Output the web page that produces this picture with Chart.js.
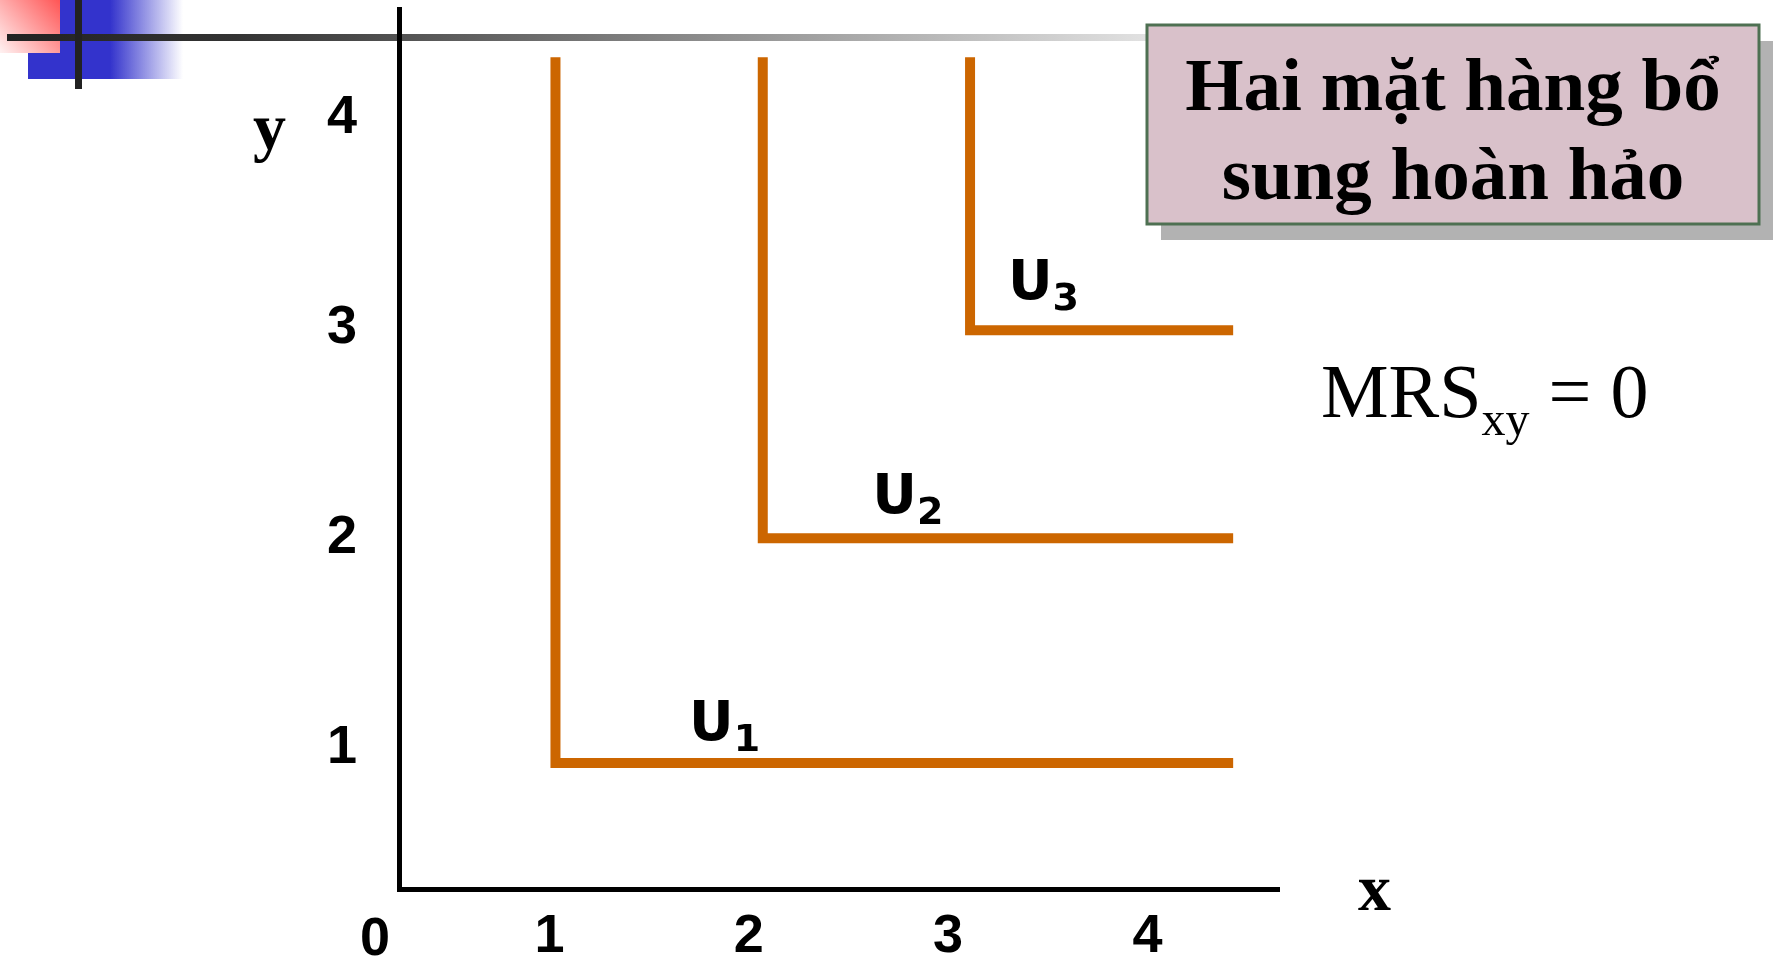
<!DOCTYPE html>
<html>
<head>
<meta charset="utf-8">
<script src="https://cdn.jsdelivr.net/npm/chart.js@4.4.1/dist/chart.umd.min.js"></script>
<style>
  html, body { margin: 0; padding: 0; background: #fff; overflow: hidden; }
  canvas { display: block; }
</style>
</head>
<body>
<canvas id="chart" width="1776" height="957"></canvas>
<script>
// L-shaped indifference curves (perfect complements)
const curveNames = ['1', '2', '3'];
const cornerX = [1.03, 2.07, 3.11];
const cornerY = [0.93, 2.0, 2.99];
const curveTop = 4.29;
const curveEnd = 4.43;

const xTicks = [1, 2, 3, 4];
const yTicks = [1, 2, 3, 4];
const xRange = [0.245, 4.66];
const yRange = [0.33, 4.52];

// where the U labels sit, in data units [x, y]
const labelAt = [[1.72, 1.04], [2.64, 2.12], [3.32, 3.14]];

const orange = '#cc6600';
const tickFont = { family: "'Liberation Sans Narrow', 'Liberation Sans', Arial, sans-serif", size: 54, weight: 'bold' };

const datasets = curveNames.map((name, i) => ({
    label: 'U' + name,
    data: [
        { x: cornerX[i], y: curveTop },
        { x: cornerX[i], y: cornerY[i] },
        { x: curveEnd, y: cornerY[i] }
    ],
    showLine: true,
    borderColor: orange,
    borderWidth: 10,
    borderJoinStyle: 'miter',
    borderCapStyle: 'butt',
    pointRadius: 0,
    tension: 0,
    clip: false
}));

function noPad(s) {
    s.paddingTop = 0;
    s.paddingBottom = 0;
    s.paddingLeft = 0;
    s.paddingRight = 0;
}

const decor = {
    id: 'decor',
    beforeDraw(chart) {
        const ctx = chart.ctx;
        ctx.save();
        // blue block
        let g = ctx.createLinearGradient(28, 0, 183, 0);
        g.addColorStop(0, '#3333cc');
        g.addColorStop(0.53, '#3333cc');
        g.addColorStop(1, 'rgba(51,51,204,0)');
        ctx.fillStyle = g;
        ctx.fillRect(28, 0, 155, 79);
        // red block
        g = ctx.createLinearGradient(60, 0, 0, 53);
        g.addColorStop(0, '#ff5555');
        g.addColorStop(1, '#fff2f2');
        ctx.fillStyle = g;
        ctx.fillRect(0, 0, 60, 53);
        // long rule
        g = ctx.createLinearGradient(7, 0, 1150, 0);
        g.addColorStop(0, '#222222');
        g.addColorStop(0.2, '#333333');
        g.addColorStop(1, '#e2e2e2');
        ctx.fillStyle = g;
        ctx.fillRect(7, 34, 1145, 7);
        ctx.fillStyle = '#222222';
        ctx.fillRect(75, 0, 7, 89);
        ctx.restore();
    },
    afterDraw(chart) {
        const ctx = chart.ctx;
        const xs = chart.scales.x, ys = chart.scales.y;
        ctx.save();
        ctx.fillStyle = '#000';

        // origin label
        ctx.font = 'bold 54px ' + tickFont.family;
        ctx.textAlign = 'center';
        ctx.textBaseline = 'alphabetic';
        ctx.fillText('0', xs.left - 24, 955);

        // axis names
        ctx.font = 'bold 66px "Liberation Serif", "Times New Roman", serif';
        ctx.textAlign = 'left';
        ctx.fillText('y', 253, 149);
        ctx.fillText('x', 1358, 910);

        // curve labels
        labelAt.forEach((p, i) => {
            const px = xs.getPixelForValue(p[0]) - 4;
            const py = ys.getPixelForValue(p[1]);
            ctx.font = 'bold 55px "DejaVu Sans", Verdana, sans-serif';
            ctx.fillText('U', px, py);
            const w = ctx.measureText('U').width;
            ctx.font = 'bold 38px "DejaVu Sans", Verdana, sans-serif';
            ctx.fillText(curveNames[i], px + w, py + 11);
        });

        // MRS note
        let x = 1321;
        ctx.font = '76px "Liberation Serif", "Times New Roman", serif';
        ctx.fillText('MRS', x, 417);
        x += ctx.measureText('MRS').width;
        ctx.font = '48px "Liberation Serif", "Times New Roman", serif';
        ctx.fillText('xy', x, 435);
        x += ctx.measureText('xy').width;
        ctx.font = '76px "Liberation Serif", "Times New Roman", serif';
        ctx.fillText(' = 0', x, 417);

        // title box
        ctx.fillStyle = '#b2b2b2';
        ctx.fillRect(1161, 41, 612, 199);
        ctx.fillStyle = '#d9c1ca';
        ctx.fillRect(1147, 25, 612, 199);
        ctx.strokeStyle = '#4e7052';
        ctx.lineWidth = 3;
        ctx.strokeRect(1147, 25, 612, 199);
        ctx.fillStyle = '#000';
        ctx.font = 'bold 75px "Liberation Serif", "Times New Roman", serif';
        ctx.textAlign = 'center';
        ctx.fillText('Hai mặt hàng bổ', 1453, 110);
        ctx.fillText('sung hoàn hảo', 1453, 199);
        ctx.restore();
    }
};

new Chart(document.getElementById('chart'), {
    type: 'scatter',
    data: { datasets: datasets },
    options: {
        responsive: false,
        animation: false,
        layout: { padding: { top: 9, right: 497, left: 0, bottom: 0 } },
        plugins: {
            legend: { display: false },
            tooltip: { enabled: false }
        },
        scales: {
            x: {
                type: 'linear',
                min: xRange[0],
                max: xRange[1],
                afterBuildTicks: (s) => { s.ticks = xTicks.map(v => ({ value: v })); },
                afterFit: (s) => { s.height = 68; noPad(s); },
                grid: { display: false, drawTicks: false },
                border: { display: true, color: '#000', width: 5 },
                ticks: { color: '#000', font: tickFont, padding: 16, maxRotation: 0, autoSkip: false }
            },
            y: {
                type: 'linear',
                min: yRange[0],
                max: yRange[1],
                afterBuildTicks: (s) => { s.ticks = yTicks.map(v => ({ value: v })); },
                afterFit: (s) => { s.width = 399; noPad(s); },
                grid: { display: false, drawTicks: false },
                border: { display: true, color: '#000', width: 5 },
                ticks: { color: '#000', font: tickFont, padding: 42, autoSkip: false }
            }
        }
    },
    plugins: [decor]
});
</script>
</body>
</html>
